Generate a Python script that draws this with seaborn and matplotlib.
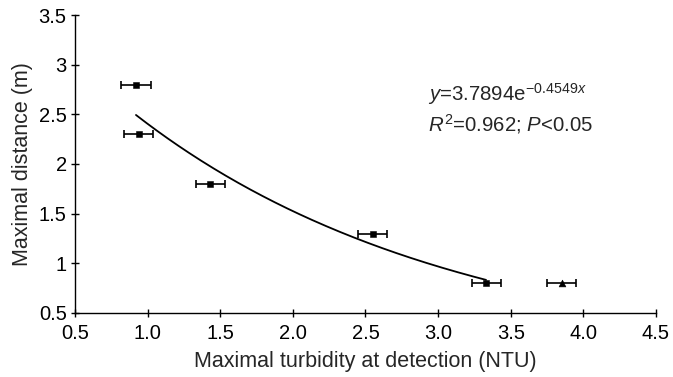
import numpy as np
import pandas as pd
import matplotlib
matplotlib.use("Agg")
import matplotlib.pyplot as plt
import seaborn as sns

# Data
sq_x = [0.92, 0.94, 1.43, 2.55, 3.33]
sq_y = [2.8, 2.3, 1.8, 1.3, 0.8]
tri_x = [3.85]
tri_y = [0.8]
x_err = 0.1
fit_a = 3.7894
fit_b = -0.4549
fit_range = (0.92, 3.33)
x_ticks = [0.5, 1.0, 1.5, 2.0, 2.5, 3.0, 3.5, 4.0, 4.5]
y_ticks = [0.5, 1, 1.5, 2, 2.5, 3, 3.5]
y_tick_labels = ["0.5", "1", "1.5", "2", "2.5", "3", "3.5"]

sns.set_style("ticks")
plt.rcParams['font.family'] = ['Liberation Sans', 'DejaVu Sans']
plt.rcParams['mathtext.fontset'] = 'custom'
plt.rcParams['mathtext.rm'] = 'Liberation Sans'
plt.rcParams['mathtext.it'] = 'Liberation Sans:italic'
plt.rcParams['mathtext.bf'] = 'Liberation Sans:bold'

fig = plt.figure(figsize=(6.73, 3.77), dpi=100)
ax = fig.add_axes([0.1114, 0.1698, 0.8633, 0.7904])

df_sq = pd.DataFrame({"x": sq_x, "y": sq_y})
df_tri = pd.DataFrame({"x": tri_x, "y": tri_y})

# fitted curve
xf = np.linspace(fit_range[0], fit_range[1], 200)
df_fit = pd.DataFrame({"x": xf, "y": fit_a * np.exp(fit_b * xf)})
sns.lineplot(data=df_fit, x="x", y="y", ax=ax, color="black", linewidth=1.3)

ax.errorbar(sq_x, sq_y, xerr=x_err, fmt="none", ecolor="black",
            elinewidth=1.2, capsize=3.2, capthick=1.2, zorder=3)
ax.errorbar(tri_x, tri_y, xerr=x_err, fmt="none", ecolor="black",
            elinewidth=1.2, capsize=3.2, capthick=1.2, zorder=3)
sns.scatterplot(data=df_sq, x="x", y="y", ax=ax, marker="s", s=22,
                color="black", edgecolor="black", zorder=4)
sns.scatterplot(data=df_tri, x="x", y="y", ax=ax, marker="^", s=24,
                color="black", edgecolor="black", zorder=4)

ax.set_xlim(0.5, 4.5)
ax.set_ylim(0.5, 3.5)
ax.set_xticks(x_ticks)
ax.set_xticklabels([f"{t:.1f}" for t in x_ticks])
ax.set_yticks(y_ticks)
ax.set_yticklabels(y_tick_labels)
ax.tick_params(direction="inout", length=6, width=1, labelsize=14.5, colors="black")
ax.tick_params(axis="x", pad=5)
ax.tick_params(axis="y", pad=3)
for s in ["top", "right"]:
    ax.spines[s].set_visible(False)
for s in ["left", "bottom"]:
    ax.spines[s].set_linewidth(1)
    ax.spines[s].set_color("black")

ax.set_xlabel("Maximal turbidity at detection (NTU)", fontsize=15.5, labelpad=6)
ax.set_ylabel("Maximal distance (m)", fontsize=15.5, labelpad=4)

ax.text(2.93, 2.64, r"$\it{y}$=3.7894e$^{-0.4549\it{x}}$", fontsize=14.7, ha="left", va="baseline")
ax.text(2.93, 2.33, r"$\it{R}^2$=0.962; $\it{P}$<0.05", fontsize=14.7, ha="left", va="baseline")

fig.savefig("out.png", dpi=100)
